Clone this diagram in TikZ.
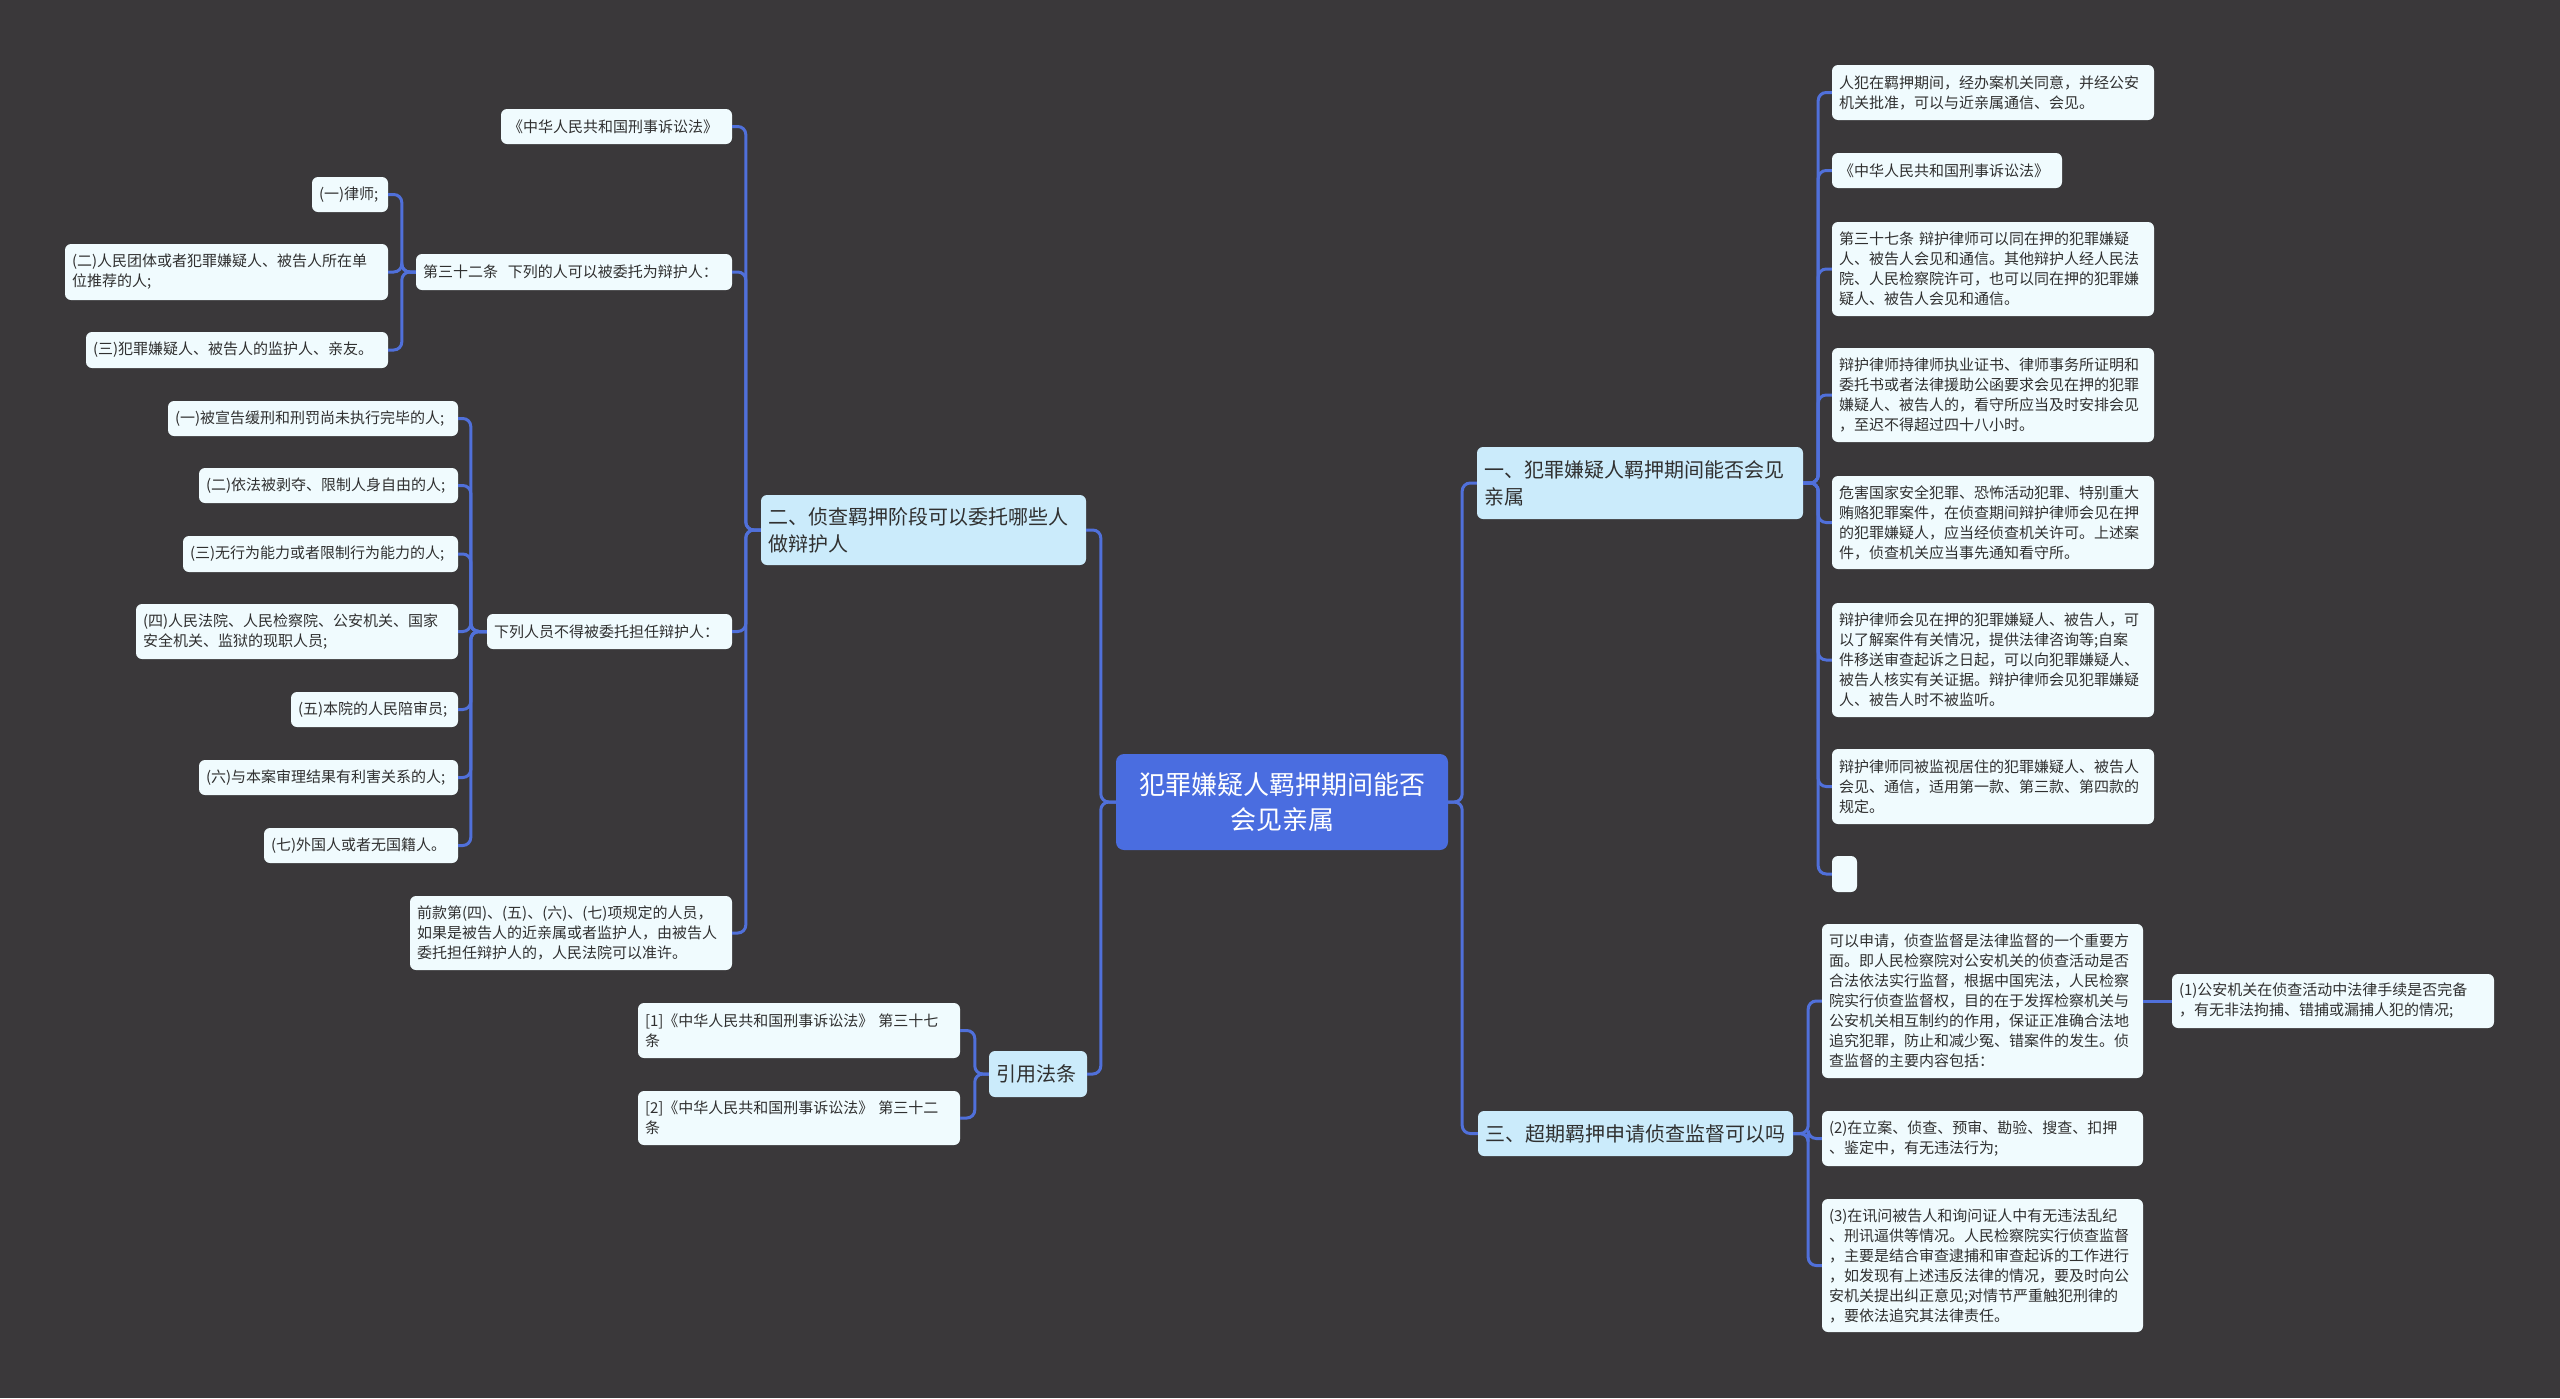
\documentclass[tikz,border=0pt]{standalone}
\usepackage{fontspec}
\setmainfont{Noto Sans CJK SC}
\definecolor{bgc}{HTML}{3A383A}
\definecolor{linec}{HTML}{5070DA}
\definecolor{rootc}{HTML}{4A6DE0}
\definecolor{brc}{HTML}{CBEBFB}
\definecolor{leafc}{HTML}{F0FBFE}
\definecolor{txtc}{HTML}{303030}
\newcommand\mmbox[7]{%
  \pgfmathsetmacro\mmW{#5-#3}\pgfmathsetmacro\mmH{#6-#4}%
  \pgfmathsetmacro\mmX{(#3+#5)/2}\pgfmathsetmacro\mmY{(#4+#6)/2}%
  \pgfmathsetmacro\mmT{#5-#3-14}%
  \node[#1, minimum width=\mmW pt, minimum height=\mmH pt, text width=\mmT pt] (#2) at (\mmX,\mmY) {#7};}
\begin{document}
\begin{tikzpicture}[x=1pt,y=-1pt,
  conn/.style={draw=linec, line width=3pt, rounded corners=8pt},
  leaf/.style={fill=leafc, rounded corners=6pt, inner xsep=7pt, inner ysep=1pt, align=left, text=txtc, font=\fontsize{15}{20}\selectfont},
  branch/.style={fill=brc, rounded corners=6pt, inner xsep=7pt, inner ysep=1pt, align=left, text=txtc, font=\fontsize{20}{27}\selectfont},
  root/.style={fill=rootc, rounded corners=8pt, inner xsep=7pt, inner ysep=1pt, align=center, text=white, font=\fontsize{26}{35}\selectfont}]
\fill[bgc] (0,0) rectangle (2560,1398);
\useasboundingbox (0,0) rectangle (2560,1398);

% root
\mmbox{root}{ctr}{1116}{754}{1448}{850}{犯罪嫌疑人羁押期间能否\\会见亲属}

% right branch 1
\mmbox{branch}{r1}{1477}{447}{1803}{519}{一、犯罪嫌疑人羁押期间能否会见\\亲属}
\mmbox{leaf}{r1a}{1832}{65}{2154}{120}{人犯在羁押期间，经办案机关同意，并经公安\\机关批准，可以与近亲属通信、会见。}
\mmbox{leaf}{r1b}{1832}{153}{2062}{188}{《中华人民共和国刑事诉讼法》}
\mmbox{leaf}{r1c}{1832}{222}{2154}{316}{第三十七条 辩护律师可以同在押的犯罪嫌疑\\人、被告人会见和通信。其他辩护人经人民法\\院、人民检察院许可，也可以同在押的犯罪嫌\\疑人、被告人会见和通信。}
\mmbox{leaf}{r1d}{1832}{348}{2154}{442}{辩护律师持律师执业证书、律师事务所证明和\\委托书或者法律援助公函要求会见在押的犯罪\\嫌疑人、被告人的，看守所应当及时安排会见\\，至迟不得超过四十八小时。}
\mmbox{leaf}{r1e}{1832}{476}{2154}{569}{危害国家安全犯罪、恐怖活动犯罪、特别重大\\贿赂犯罪案件，在侦查期间辩护律师会见在押\\的犯罪嫌疑人，应当经侦查机关许可。上述案\\件，侦查机关应当事先通知看守所。}
\mmbox{leaf}{r1f}{1832}{603}{2154}{717}{辩护律师会见在押的犯罪嫌疑人、被告人，可\\以了解案件有关情况，提供法律咨询等;自案\\件移送审查起诉之日起，可以向犯罪嫌疑人、\\被告人核实有关证据。辩护律师会见犯罪嫌疑\\人、被告人时不被监听。}
\mmbox{leaf}{r1g}{1832}{749}{2154}{824}{辩护律师同被监视居住的犯罪嫌疑人、被告人\\会见、通信，适用第一款、第三款、第四款的\\规定。}
\mmbox{leaf}{r1h}{1832}{856}{1857}{892}{}

% right branch 3
\mmbox{branch}{r3}{1478}{1111}{1793}{1156}{三、超期羁押申请侦查监督可以吗}
\mmbox{leaf}{r3a}{1822}{924}{2143}{1078}{可以申请，侦查监督是法律监督的一个重要方\\面。即人民检察院对公安机关的侦查活动是否\\合法依法实行监督，根据中国宪法，人民检察\\院实行侦查监督权，目的在于发挥检察机关与\\公安机关相互制约的作用，保证正准确合法地\\追究犯罪，防止和减少冤、错案件的发生。侦\\查监督的主要内容包括：}
\mmbox{leaf}{r3aa}{2172}{974}{2494}{1028}{(1)公安机关在侦查活动中法律手续是否完备\\，有无非法拘捕、错捕或漏捕人犯的情况;}
\mmbox{leaf}{r3b}{1822}{1111}{2143}{1166}{(2)在立案、侦查、预审、勘验、搜查、扣押\\、鉴定中，有无违法行为;}
\mmbox{leaf}{r3c}{1822}{1199}{2143}{1332}{(3)在讯问被告人和询问证人中有无违法乱纪\\、刑讯逼供等情况。人民检察院实行侦查监督\\，主要是结合审查逮捕和审查起诉的工作进行\\，如发现有上述违反法律的情况，要及时向公\\安机关提出纠正意见;对情节严重触犯刑律的\\，要依法追究其法律责任。}

% left branch 2
\mmbox{branch}{l2}{761}{495}{1086}{565}{二、侦查羁押阶段可以委托哪些人\\做辩护人}
\mmbox{leaf}{l2a}{501}{109}{732}{144}{《中华人民共和国刑事诉讼法》}
\mmbox{leaf}{l2b}{416}{254}{732}{290}{第三十二条\ \ 下列的人可以被委托为辩护人：}
\mmbox{leaf}{l2ba}{312}{177}{388}{212}{(一)律师;}
\mmbox{leaf}{l2bb}{65}{244}{388}{300}{(二)人民团体或者犯罪嫌疑人、被告人所在单\\位推荐的人;}
\mmbox{leaf}{l2bc}{86}{332}{388}{368}{(三)犯罪嫌疑人、被告人的监护人、亲友。}
\mmbox{leaf}{l2c}{487}{614}{732}{649}{下列人员不得被委托担任辩护人：}
\mmbox{leaf}{l2ca}{168}{401}{458}{436}{(一)被宣告缓刑和刑罚尚未执行完毕的人;}
\mmbox{leaf}{l2cb}{199}{468}{458}{503}{(二)依法被剥夺、限制人身自由的人;}
\mmbox{leaf}{l2cc}{183}{536}{458}{572}{(三)无行为能力或者限制行为能力的人;}
\mmbox{leaf}{l2cd}{136}{604}{458}{659}{(四)人民法院、人民检察院、公安机关、国家\\安全机关、监狱的现职人员;}
\mmbox{leaf}{l2ce}{291}{692}{458}{727}{(五)本院的人民陪审员;}
\mmbox{leaf}{l2cf}{199}{760}{458}{795}{(六)与本案审理结果有利害关系的人;}
\mmbox{leaf}{l2cg}{264}{828}{458}{863}{(七)外国人或者无国籍人。}
\mmbox{leaf}{l2d}{410}{896}{732}{970}{前款第(四)、(五)、(六)、(七)项规定的人员，\\如果是被告人的近亲属或者监护人，由被告人\\委托担任辩护人的，人民法院可以准许。}

% left branch cite
\mmbox{branch}{cite}{989}{1051}{1087}{1097}{引用法条}
\mmbox{leaf}{citea}{638}{1003}{960}{1058}{[1]《中华人民共和国刑事诉讼法》 第三十七\\条}
\mmbox{leaf}{citeb}{638}{1091}{960}{1145}{[2]《中华人民共和国刑事诉讼法》 第三十二\\条}

% connectors
\foreach \t in {r1,r3} \draw[conn] (ctr.east) -- ++(14,0) |- (\t.west);
\foreach \t in {l2,cite} \draw[conn] (ctr.west) -- ++(-15,0) |- (\t.east);
\foreach \t in {r1a,r1b,r1c,r1d,r1e,r1f,r1g,r1h} \draw[conn] (r1.east) -- ++(15,0) |- (\t.west);
\foreach \t in {r3a,r3b,r3c} \draw[conn] (r3.east) -- ++(15,0) |- (\t.west);
\draw[conn] (r3a.east) -- (r3aa.west);
\foreach \t in {l2a,l2b,l2c,l2d} \draw[conn] (l2.west) -- ++(-15,0) |- (\t.east);
\foreach \t in {l2ba,l2bb,l2bc} \draw[conn] (l2b.west) -- ++(-14,0) |- (\t.east);
\foreach \t in {l2ca,l2cb,l2cc,l2cd,l2ce,l2cf,l2cg} \draw[conn] (l2c.west) -- ++(-16,0) |- (\t.east);
\foreach \t in {citea,citeb} \draw[conn] (cite.west) -- ++(-14,0) |- (\t.east);
\end{tikzpicture}
\end{document}
